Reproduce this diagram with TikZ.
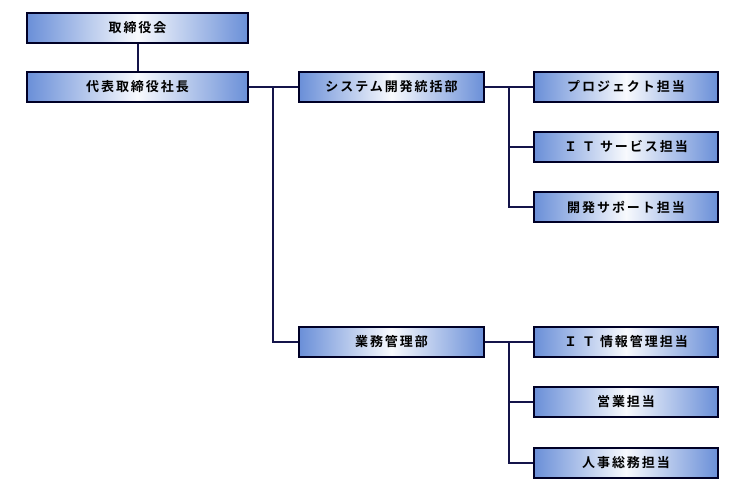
\documentclass[tikz,border=0pt]{standalone}
\usepackage{fontspec}
\newfontfamily\jp{Noto Sans CJK JP}[BoldFont={Noto Sans CJK JP Bold}, LetterSpace=15]
\definecolor{boxblue}{HTML}{6A8FD8}
\definecolor{linenavy}{HTML}{14144A}
\begin{document}
\begin{tikzpicture}[x=1pt,y=-1pt,
  orgbox/.style={draw=black!85!blue, line width=1.3pt, minimum height=30pt,
    left color=boxblue, right color=boxblue, middle color=white!95!boxblue,
    font=\jp\bfseries\fontsize{13}{15}\selectfont, inner sep=0pt, anchor=center},
  wide/.style={orgbox, minimum width=221pt},
  mid/.style={orgbox, minimum width=185pt},
  conn/.style={draw=linenavy, line width=2pt}]
\useasboundingbox (0,0) rectangle (748,488);
\fill[white] (0,0) rectangle (748,488);
\node[wide] (board) at (137.5,28) {取締役会};
\node[wide] (ceo) at (137.5,87) {代表取締役社長};
\node[mid] (sys) at (391.5,87) {システム開発統括部};
\node[mid] (gyo) at (391.5,342) {業務管理部};
\node[mid, minimum width=184pt] (p1) at (626,87) {プロジェクト担当};
\node[mid, minimum width=184pt] (p2) at (626,147) {Ｉ Ｔ サービス担当};
\node[mid, minimum width=184pt] (p3) at (626,207) {開発サポート担当};
\node[mid, minimum width=184pt] (q1) at (626,342) {Ｉ Ｔ 情報管理担当};
\node[mid, minimum width=184pt] (q2) at (626,402) {営業担当};
\node[mid, minimum width=184pt] (q3) at (626,463) {人事総務担当};
\coordinate (j1) at (273,87);
\coordinate (j2) at (509,87);
\coordinate (j3) at (509,342);
\draw[conn] (board.south) -- (ceo.north);
\draw[conn] (ceo.east) -- (sys.west);
\draw[conn] (j1) |- (gyo.west);
\draw[conn] (sys.east) -- (p1.west);
\draw[conn] (j2) |- (p2.west);
\draw[conn] (j2) |- (p3.west);
\draw[conn] (gyo.east) -- (q1.west);
\draw[conn] (j3) |- (q2.west);
\draw[conn] (j3) |- (q3.west);
\end{tikzpicture}
\end{document}
